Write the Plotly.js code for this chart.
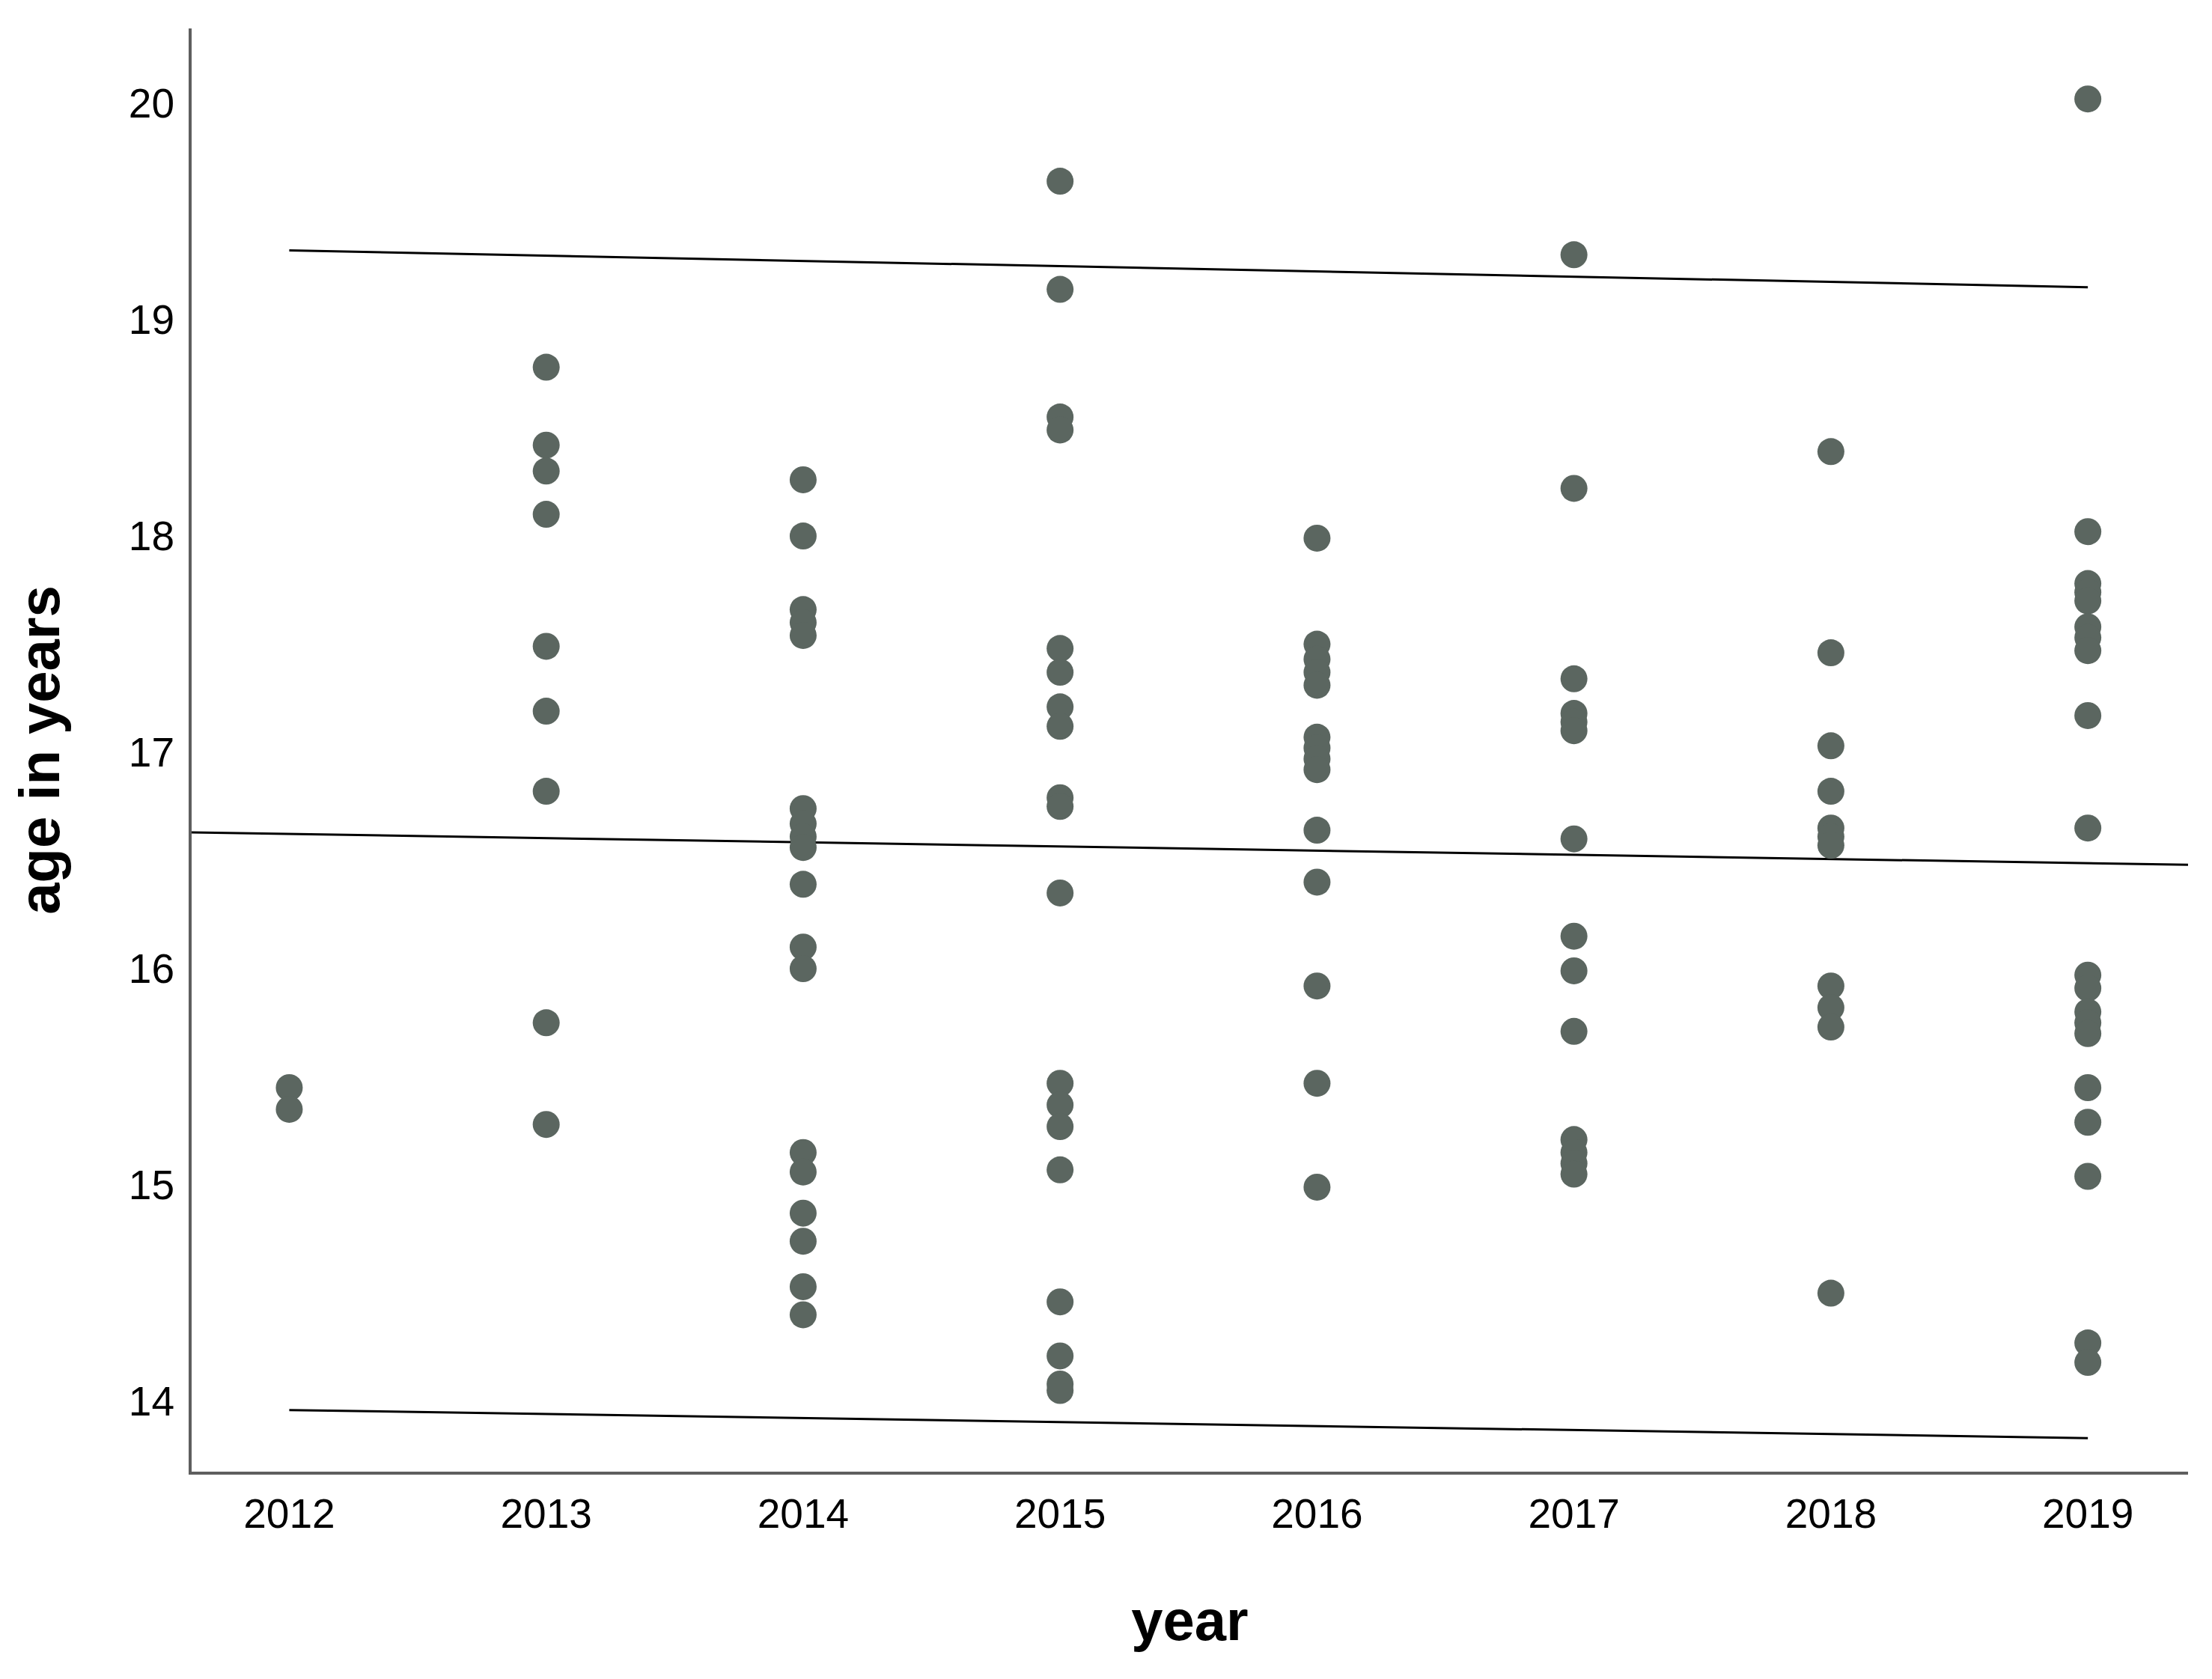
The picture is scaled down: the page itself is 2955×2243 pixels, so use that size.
<!DOCTYPE html>
<html>
<head>
<meta charset="utf-8">
<script src="https://cdn.plot.ly/plotly-3.0.1.min.js"></script>
<style>
  html, body { margin: 0; padding: 0; background: #ffffff; }
  #chart { width: 2955px; height: 2243px; }
</style>
</head>
<body>
<div id="chart"></div>
<script>
// ---- data ----
const years = [2012, 2013, 2014, 2015, 2016, 2017, 2018, 2019];

const ages2012 = [15.45, 15.35];
const ages2013 = [18.78, 18.42, 18.30, 18.10, 17.49, 17.19, 16.82, 15.75, 15.28];
const ages2014 = [18.26, 18.00, 17.66, 17.60, 17.54, 16.74, 16.67, 16.61, 16.56, 16.39, 16.10, 16.00, 15.15, 15.06, 14.87, 14.74, 14.53, 14.40];
const ages2015 = [19.64, 19.14, 18.55, 18.49, 17.48, 17.37, 17.21, 17.12, 16.79, 16.75, 16.35, 15.47, 15.37, 15.27, 15.07, 14.46, 14.21, 14.08, 14.05];
const ages2016 = [17.99, 17.50, 17.43, 17.37, 17.31, 17.07, 17.02, 16.97, 16.92, 16.64, 16.40, 15.92, 15.47, 14.99];
const ages2017 = [19.30, 18.22, 17.34, 17.18, 17.14, 17.10, 16.60, 16.15, 15.99, 15.71, 15.21, 15.15, 15.10, 15.05];
const ages2018 = [18.39, 17.46, 17.03, 16.82, 16.65, 16.61, 16.57, 15.92, 15.82, 15.73, 14.50];
const ages2019 = [20.02, 18.02, 17.78, 17.74, 17.70, 17.58, 17.53, 17.47, 17.17, 16.65, 15.97, 15.91, 15.80, 15.75, 15.70, 15.45, 15.29, 15.04, 14.27, 14.18];

// fitted line (spans the whole plot) and the upper / lower interval lines
const meanFitX = [2011.62, 2019.39];
const meanFitY = [16.63, 16.48];
const bandX = [2012, 2019];
const upperY = [19.32, 19.15];
const lowerY = [13.96, 13.83];

const yTicks = [14, 15, 16, 17, 18, 19, 20];

// ---- build traces ----
const agesByYear = [ages2012, ages2013, ages2014, ages2015, ages2016, ages2017, ages2018, ages2019];
const px = [], py = [];
agesByYear.forEach((arr, i) => arr.forEach(v => { px.push(years[i]); py.push(v); }));

const lineStyle = {color: '#000000', width: 3};

const traces = [
  {x: meanFitX, y: meanFitY, type: 'scatter', mode: 'lines', line: lineStyle, hoverinfo: 'skip'},
  {x: bandX, y: upperY, type: 'scatter', mode: 'lines', line: lineStyle, hoverinfo: 'skip'},
  {x: bandX, y: lowerY, type: 'scatter', mode: 'lines', line: lineStyle, hoverinfo: 'skip'},
  {x: px, y: py, type: 'scatter', mode: 'markers',
   marker: {color: '#5b6660', size: 36, line: {width: 0}}}
];

const font = 'Liberation Sans, Arial, sans-serif';

const layout = {
  width: 2955, height: 2243,
  paper_bgcolor: '#ffffff', plot_bgcolor: '#ffffff',
  showlegend: false,
  margin: {l: 256, r: 32, t: 38, b: 277, pad: 0},
  font: {family: font, color: '#000000'},
  xaxis: {
    range: [2011.62, 2019.39],
    tickmode: 'array', tickvals: years, ticktext: years.map(String),
    showgrid: false, zeroline: false,
    showline: true, linecolor: '#5e5e5e', linewidth: 4,
    ticks: '', ticklabelstandoff: 5,
    tickfont: {family: font, size: 55, color: '#000000'},
    title: {text: 'year', font: {family: font, size: 76, color: '#000000', weight: 'bold'}, standoff: 87}
  },
  yaxis: {
    range: [13.675, 20.346],
    tickmode: 'array', tickvals: yTicks, ticktext: yTicks.map(String),
    showgrid: false, zeroline: false,
    showline: true, linecolor: '#5e5e5e', linewidth: 4,
    ticks: '', ticklabelstandoff: 8,
    tickfont: {family: font, size: 55, color: '#000000'},
    title: {text: 'age in years', font: {family: font, size: 76, color: '#000000', weight: 'bold'}, standoff: 68}
  }
};

Plotly.newPlot('chart', traces, layout, {staticPlot: true, displayModeBar: false});
</script>
</body>
</html>
